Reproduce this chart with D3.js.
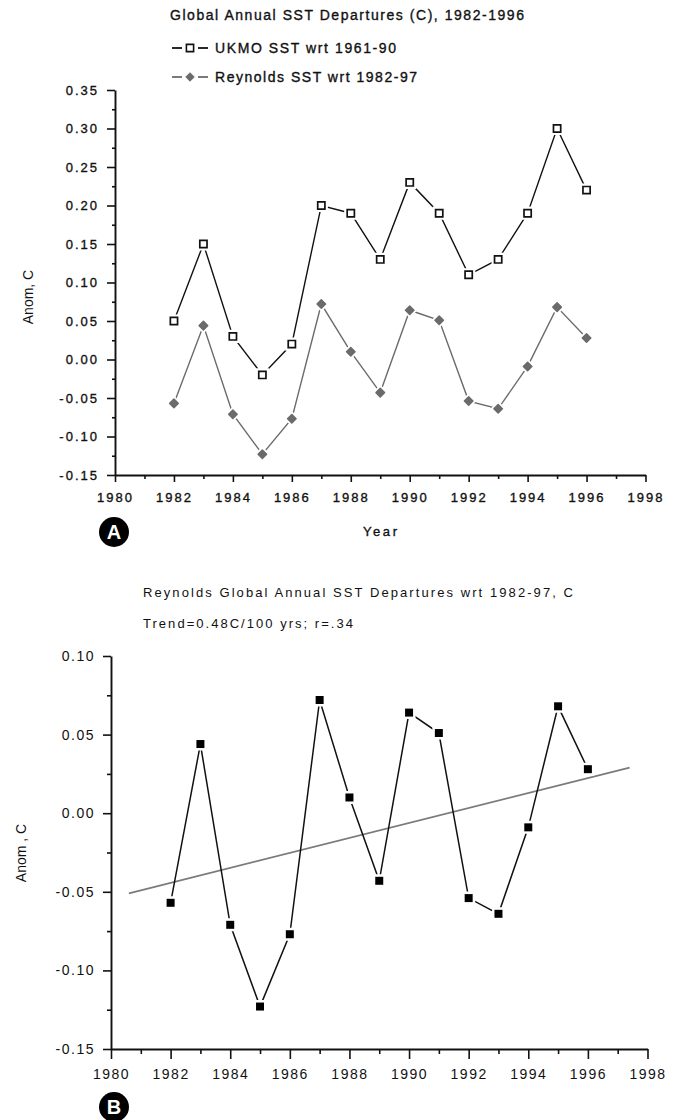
<!DOCTYPE html>
<html>
<head>
<meta charset="utf-8">
<script src="https://cdn.jsdelivr.net/npm/d3@7"></script>
<style>
body{margin:0;background:#fff;}
svg{display:block;}
</style>
</head>
<body>
<div class="chart-container"></div>
<script>
// data
const years = [1982,1983,1984,1985,1986,1987,1988,1989,1990,1991,1992,1993,1994,1995,1996];
const ukmo = [0.05,0.15,0.03,-0.02,0.02,0.20,0.19,0.13,0.23,0.19,0.11,0.13,0.19,0.30,0.22];
const reynolds = [-0.057,0.044,-0.071,-0.123,-0.077,0.072,0.010,-0.043,0.064,0.051,-0.054,-0.064,-0.009,0.068,0.028];
const trendYears = [1980.6,1997.4];
const trendValues = [-0.051,0.029];

const yearTicks = [1980,1982,1984,1986,1988,1990,1992,1994,1996,1998];
const yearMinor = [1981,1983,1985,1987,1989,1991,1993,1995,1997];
const anomTicksA = [-0.15,-0.10,-0.05,0.00,0.05,0.10,0.15,0.20,0.25,0.30,0.35];
const anomMinorA = [-0.125,-0.075,-0.025,0.025,0.075,0.125,0.175,0.225,0.275,0.325];
const anomTicksB = [-0.15,-0.10,-0.05,0.00,0.05,0.10];
const anomMinorB = [-0.125,-0.075,-0.025,0.025,0.075];

const FONT = '"Liberation Sans", Arial, sans-serif';
const INK = '#111';
const GREY = '#6b6b6b';

const svg = d3.select('.chart-container').append('svg')
    .attr('width',678).attr('height',1120)
    .attr('font-family',FONT);

function addText(x,y,str,size,len,heavy){
    const t = svg.append('text')
        .attr('x',x).attr('y',y)
        .attr('font-size',size)
        .style('fill',INK)
        .text(str);
    if(len) t.attr('textLength',len).attr('lengthAdjust','spacing');
    if(heavy) t.style('stroke',INK).style('stroke-width',0.35);
    return t;
}

// major + minor ticks for one panel
function drawAxes(xScale,yScale,o){
    const x0 = xScale.range()[0];
    const y0 = yScale.range()[0];

    const yAxis = svg.append('g')
        .attr('transform',`translate(${x0},0)`)
        .call(d3.axisLeft(yScale).tickValues(o.yTicks).tickFormat(d=>d.toFixed(2))
            .tickSizeInner(o.major).tickSizeOuter(0).tickPadding(o.padY));
    yAxis.append('g').call(d3.axisLeft(yScale).tickValues(o.yMinor).tickFormat('')
            .tickSizeInner(o.minor).tickSizeOuter(0))
        .select('.domain').remove();

    const xAxis = svg.append('g')
        .attr('transform',`translate(0,${y0})`)
        .call(d3.axisBottom(xScale).tickValues(yearTicks).tickFormat(d3.format('d'))
            .tickSizeInner(o.majorX).tickSizeOuter(0).tickPadding(o.padX));
    xAxis.append('g').call(d3.axisBottom(xScale).tickValues(yearMinor).tickFormat('')
            .tickSizeInner(o.minorX).tickSizeOuter(0))
        .select('.domain').remove();

    [yAxis,xAxis].forEach(a=>{
        a.attr('font-family',FONT).attr('font-size',o.fontSize);
        a.selectAll('.domain').attr('stroke',INK).attr('stroke-width',1.9);
        a.selectAll('line').attr('stroke',INK).attr('stroke-width',1.6);
        a.selectAll('text').style('fill',INK).style('letter-spacing',o.spacing+'px')
            .style('stroke',o.heavy ? INK : 'none').style('stroke-width',0.35);
    });
}

function drawBadge(cx,cy,letter){
    svg.append('circle').attr('cx',cx).attr('cy',cy).attr('r',15).style('fill','#000');
    svg.append('text').attr('x',cx).attr('y',cy+7)
        .attr('text-anchor','middle').attr('font-size',20).attr('font-weight','bold')
        .style('fill','#fff').text(letter);
}

function yLabel(x,y,str,size){
    svg.append('text')
        .attr('transform',`translate(${x},${y}) rotate(-90)`)
        .attr('text-anchor','middle').attr('font-size',size)
        .style('fill',INK).text(str);
}

const squareMark = d3.symbol(d3.symbolSquare,52);
const diamondMark = d3.symbol(d3.symbolDiamond2,46);

function panelA(){
    const x = d3.scaleLinear().domain([1980,1998]).range([115,645.5]);
    const y = d3.scaleLinear().domain([-0.15,0.35]).range([475,90]);

    addText(170,20,'Global Annual SST Departures (C), 1982-1996',14,354,true);

    // legend
    const leg = [
        {name:'UKMO SST wrt 1961-90', col:INK, mark:'sq', ty:53, my:48, len:181},
        {name:'Reynolds SST wrt 1982-97', col:GREY, mark:'di', ty:82, my:77, len:202}
    ];
    leg.forEach(l=>{
        svg.append('line').attr('x1',172).attr('x2',182).attr('y1',l.my).attr('y2',l.my)
            .style('stroke',l.col).style('stroke-width',1.8);
        svg.append('line').attr('x1',198).attr('x2',208).attr('y1',l.my).attr('y2',l.my)
            .style('stroke',l.col).style('stroke-width',1.8);
        const m = svg.append('path').attr('transform',`translate(190,${l.my})`);
        if(l.mark==='sq') m.attr('d',squareMark()).style('fill','#fff').style('stroke',INK).style('stroke-width',1.6);
        else m.attr('d',diamondMark()).style('fill',GREY).style('stroke',GREY).style('stroke-linejoin','round');
        addText(215,l.ty,l.name,14,l.len,true);
    });

    drawAxes(x,y,{yTicks:anomTicksA,yMinor:anomMinorA,major:8,minor:3,majorX:7,minorX:4,
        padY:8,padX:11,fontSize:13,spacing:2,heavy:true});

    const line = d3.line().x(d=>x(d[0])).y(d=>y(d[1]));

    svg.append('path').datum(years.map((d,i)=>[d,reynolds[i]]))
        .attr('d',line).style('fill','none').style('stroke',GREY).style('stroke-width',1.4);
    svg.selectAll('.rey').data(years).enter().append('path').attr('class','rey')
        .attr('transform',(d,i)=>`translate(${x(d)},${y(reynolds[i])})`)
        .attr('d',diamondMark())
        .style('fill',GREY).style('stroke','#fff').style('stroke-width',5)
        .style('paint-order','stroke').style('stroke-linejoin','round');
    svg.selectAll('.rey2').data(years).enter().append('path').attr('class','rey2')
        .attr('transform',(d,i)=>`translate(${x(d)},${y(reynolds[i])})`)
        .attr('d',diamondMark())
        .style('fill',GREY).style('stroke',GREY).style('stroke-width',1.5).style('stroke-linejoin','round');

    svg.append('path').datum(years.map((d,i)=>[d,ukmo[i]]))
        .attr('d',line).style('fill','none').style('stroke',INK).style('stroke-width',1.4);
    svg.selectAll('.uk-bg').data(years).enter().append('path').attr('class','uk-bg')
        .attr('transform',(d,i)=>`translate(${x(d)},${y(ukmo[i])})`)
        .attr('d',squareMark()).style('fill','#fff').style('stroke','#fff').style('stroke-width',6);
    svg.selectAll('.uk').data(years).enter().append('path').attr('class','uk')
        .attr('transform',(d,i)=>`translate(${x(d)},${y(ukmo[i])})`)
        .attr('d',squareMark()).style('fill','#fff').style('stroke',INK).style('stroke-width',1.7);

    yLabel(33,297,'Anom, C',14);
    addText(363,536,'Year',13,34,true);
    drawBadge(114,532,'A');
}

function panelB(){
    const x = d3.scaleLinear().domain([1980,1998]).range([111,647.5]);
    const y = d3.scaleLinear().domain([-0.15,0.10]).range([1049,656]);

    addText(143,597,'Reynolds Global Annual SST Departures wrt 1982-97, C',13,430);
    addText(143,628,'Trend=0.48C/100 yrs; r=.34',13,210);

    drawAxes(x,y,{yTicks:anomTicksB,yMinor:anomMinorB,major:8,minor:4,majorX:10,minorX:5,
        padY:8,padX:10,fontSize:14,spacing:1.5,heavy:false});

    const line = d3.line().x(d=>x(d[0])).y(d=>y(d[1]));

    svg.append('path').datum(trendYears.map((d,i)=>[d,trendValues[i]]))
        .attr('d',line).style('fill','none').style('stroke','#7a7a7a').style('stroke-width',1.6);

    svg.append('path').datum(years.map((d,i)=>[d,reynolds[i]]))
        .attr('d',line).style('fill','none').style('stroke',INK).style('stroke-width',1.5);
    svg.selectAll('.rb').data(years).enter().append('path').attr('class','rb')
        .attr('transform',(d,i)=>`translate(${x(d)},${y(reynolds[i])})`)
        .attr('d',d3.symbol(d3.symbolSquare,64)())
        .style('fill','#000').style('stroke','#fff').style('stroke-width',5).style('paint-order','stroke');

    yLabel(26,853,'Anom , C',14);
    drawBadge(114,1107,'B');
}

panelA();
panelB();
</script>
</body>
</html>
